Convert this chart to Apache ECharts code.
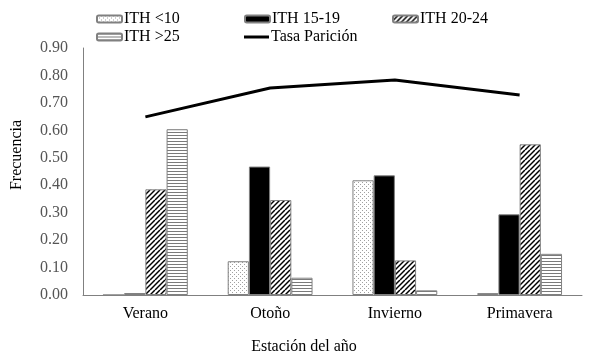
<!DOCTYPE html>
<html><head><meta charset="utf-8">
<script src="https://cdn.jsdelivr.net/npm/echarts@6/dist/echarts.min.js"></script>
<style>html,body{margin:0;padding:0;background:#fff}#c{width:598px;height:361px}</style>
</head><body><div id="c"></div>
<script>
const categories = ['Verano', 'Otoño', 'Invierno', 'Primavera'];
const ith10 = [0, 0.123, 0.418, 0.007];
const ith1519 = [0.007, 0.468, 0.436, 0.294];
const ith2024 = [0.385, 0.346, 0.126, 0.549];
const ith25 = [0.604, 0.063, 0.017, 0.150];
const tasa = [0.649, 0.754, 0.783, 0.729];
const yTicks = [0, 0.1, 0.2, 0.3, 0.4, 0.5, 0.6, 0.7, 0.8, 0.9];

function makePattern(draw, w, h) {
  const c = document.createElement('canvas');
  c.width = w; c.height = h;
  const ctx = c.getContext('2d');
  ctx.fillStyle = '#fff'; ctx.fillRect(0, 0, w, h);
  draw(ctx);
  return { image: c, repeat: 'repeat' };
}
const dots = makePattern(ctx => {
  ctx.fillStyle = '#a0a0a0';
  ctx.fillRect(0, 0, 1, 1);
  ctx.fillRect(2, 2, 1, 1);
}, 4, 4);
const diag = makePattern(ctx => {
  ctx.strokeStyle = '#000'; ctx.lineWidth = 1.5;
  for (let k = -10; k <= 20; k += 5) {
    ctx.beginPath(); ctx.moveTo(k, 10); ctx.lineTo(k + 10, 0); ctx.stroke();
  }
}, 10, 10);
const horiz = makePattern(ctx => {
  ctx.fillStyle = '#7a7a7a';
  ctx.fillRect(0, 0, 4, 1);
}, 4, 3);

const font = '"Liberation Serif", "Times New Roman", serif';
const border = { borderColor: '#808080', borderWidth: 1 };
const chart = echarts.init(document.getElementById('c'));
const legendBase = { itemWidth: 25, itemHeight: 7, itemGap: 4, textStyle: { fontFamily: font, fontSize: 16, color: '#000', padding: [0, 0, 0, -3] } };
chart.setOption({
  animation: false,
  grid: { left: 83, right: 16, top: 48, bottom: 66 },
  legend: [
    Object.assign({ left: 91, top: 6, data: ['ITH <10'] }, legendBase),
    Object.assign({ left: 239, top: 6, data: ['ITH 15-19'] }, legendBase),
    Object.assign({ left: 387, top: 6, data: ['ITH 20-24'] }, legendBase),
    Object.assign({ left: 91, top: 24, data: ['ITH >25'] }, legendBase),
    Object.assign({}, legendBase, { left: 239, top: 24, itemHeight: 3, data: [{ name: 'Tasa Parición', icon: 'rect' }] })
  ],
  xAxis: {
    type: 'category', data: categories,
    axisLine: { lineStyle: { color: '#808080' } },
    axisTick: { show: false },
    axisLabel: { fontFamily: font, fontSize: 16, color: '#000', margin: 11 }
  },
  yAxis: {
    type: 'value', min: 0, max: 0.9, interval: 0.1,
    axisLine: { show: true, lineStyle: { color: '#808080' } },
    axisTick: { show: false },
    splitLine: { show: false },
    axisLabel: { fontFamily: font, fontSize: 16, color: '#555', margin: 15,
      formatter: v => v.toFixed(2) }
  },
  graphic: [
    { type: 'text', x: 17, y: 155, rotation: Math.PI / 2, style: { text: 'Frecuencia', font: '16px "Liberation Serif"', fill: '#000', align: 'center', verticalAlign: 'middle' } },
    { type: 'text', x: 304, y: 347, style: { text: 'Estación del año', font: '16px "Liberation Serif"', fill: '#000', align: 'center', verticalAlign: 'middle' } }
  ],
  series: [
    { name: 'ITH <10', type: 'bar', data: ith10, barGap: '0%', barCategoryGap: '32%', itemStyle: Object.assign({ color: dots }, border) },
    { name: 'ITH 15-19', type: 'bar', data: ith1519, itemStyle: Object.assign({ color: '#000' }, border) },
    { name: 'ITH 20-24', type: 'bar', data: ith2024, itemStyle: Object.assign({ color: diag }, border) },
    { name: 'ITH >25', type: 'bar', data: ith25, itemStyle: Object.assign({ color: horiz }, border) },
    { name: 'Tasa Parición', type: 'line', data: tasa, showSymbol: false, symbol: 'none', lineStyle: { color: '#000', width: 3 }, itemStyle: { color: '#000' } }
  ]
});
</script></body></html>
